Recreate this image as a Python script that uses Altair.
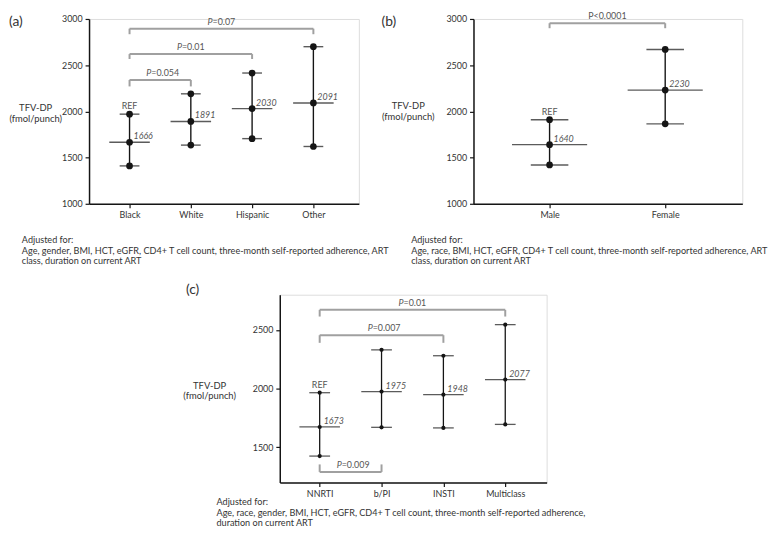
import altair as alt
import pandas as pd

FONT = "Lato"
TXT = "#333333"
VAL = "#555555"
BRK = "#a0a0a0"
INK = "#151515"

# ---------------- data ----------------
a_cats = ["Black", "White", "Hispanic", "Other"]
a_mean = [1666, 1891, 2030, 2091]
a_low = [1410, 1635, 1705, 1620]
a_high = [1970, 2190, 2415, 2700]
a_br_from = [0, 0, 0]
a_br_to = [1, 2, 3]
a_br_level = [2340, 2620, 2895]
a_br_tip = [2270, 2567, 2835]
a_br_p = ["=0.054", "=0.01", "=0.07"]

b_cats = ["Male", "Female"]
b_mean = [1640, 2230]
b_low = [1420, 1865]
b_high = [1910, 2670]
b_br_from = [0]
b_br_to = [1]
b_br_level = [2954]
b_br_tip = [2900]
b_br_label = ["P<0.0001"]

c_cats = ["NNRTI", "b/PI", "INSTI", "Multiclass"]
c_mean = [1673, 1975, 1948, 2077]
c_low = [1425, 1670, 1665, 1695]
c_high = [1965, 2330, 2280, 2545]
c_br_from = [0, 0, 0]
c_br_to = [3, 2, 1]
c_br_level = [2671, 2455, 1290]
c_br_tip = [2614, 2390, 1354]
c_br_p = ["=0.01", "=0.007", "=0.009"]

y_ticks_ab = [1000, 1500, 2000, 2500, 3000]
y_ticks_c = [1500, 2000, 2500]

note_a = ("Adjusted for:\nAge, gender, BMI, HCT, eGFR, CD4+ T cell count, three-month self-reported adherence, ART\n"
          "class, duration on current ART")
note_b = ("Adjusted for:\nAge, race, BMI, HCT, eGFR, CD4+ T cell count, three-month self-reported adherence, ART\n"
          "class, duration on current ART")
note_c = ("Adjusted for:\nAge, race, gender, BMI, HCT, eGFR, CD4+ T cell count, three-month self-reported adherence,\n"
          "duration on current ART")


def panel(cats, lows, means, highs, xdom, ydom, yticks, width, height,
          br_from, br_to, br_level, br_tip, br_p, br_plain, br_dy,
          cap, meanw, dot, sw, letter, letter_xy, title_xy, note, note_xy):
    n = len(cats)
    df = pd.DataFrame({"idx": list(range(n)), "cat": cats, "lo": lows,
                       "mean": means, "hi": highs})
    labexpr = "[" + ",".join("'%s'" % c for c in cats) + "][datum.value]"
    xaxis = alt.Axis(values=list(range(n)), labelExpr=labexpr, title=None, grid=False,
                     domainColor=INK, domainWidth=1.5, tickColor=INK, tickWidth=1.2,
                     tickSize=4, labelPadding=3, labelColor=TXT, labelFontSize=9,
                     labelFont=FONT)
    yaxis = alt.Axis(values=yticks, title=None, grid=False, format="d",
                     domainColor=INK, domainWidth=1.5, tickColor=INK, tickWidth=1.2,
                     tickSize=4, labelPadding=3, labelColor=TXT, labelFontSize=9,
                     labelFont=FONT)
    xs = alt.Scale(domain=xdom, nice=False, zero=False)
    ys = alt.Scale(domain=ydom, nice=False, zero=False)

    def X(f):
        return alt.X(f, type="quantitative", scale=xs, axis=xaxis)

    def Y(f):
        return alt.Y(f, type="quantitative", scale=ys, axis=yaxis)

    base = alt.Chart(df)
    whisk = base.mark_rule(color=INK, strokeWidth=sw).encode(x=X("idx"), y=Y("lo"), y2="hi")
    caps = base.transform_fold(["lo", "hi"], as_=["k", "val"]).mark_tick(
        orient="horizontal", size=cap, thickness=sw, color=INK).encode(x=X("idx"), y=Y("val"))
    mline = base.mark_tick(orient="horizontal", size=meanw, thickness=sw, color=INK).encode(
        x=X("idx"), y=Y("mean"))
    dots = base.transform_fold(["lo", "mean", "hi"], as_=["k", "val"]).mark_circle(
        size=dot, color=INK, opacity=1).encode(x=X("idx"), y=Y("val"))
    vals = base.mark_text(align="left", baseline="middle", dx=4, dy=-6, fontStyle="italic",
                          font=FONT, fontSize=9, color=VAL).encode(
        x=X("idx"), y=Y("mean"), text=alt.Text("mean:Q", format="d"))
    ref = base.transform_filter("datum.idx == 0").mark_text(
        align="center", baseline="middle", dy=-8, font=FONT, fontSize=9, color=VAL).encode(
        x=X("idx"), y=Y("hi"), text=alt.value("REF"))

    bdf = pd.DataFrame({"f": br_from, "t": br_to, "lv": br_level, "tip": br_tip, "p": br_p})
    bb = alt.Chart(bdf).transform_calculate(mid="(datum.f + datum.t) / 2")
    hbar = bb.mark_rule(color=BRK, strokeWidth=2).encode(x=X("f"), x2="t", y=Y("lv"))
    lt = bb.mark_rule(color=BRK, strokeWidth=2).encode(x=X("f"), y=Y("lv"), y2="tip")
    rt = bb.mark_rule(color=BRK, strokeWidth=2).encode(x=X("t"), y=Y("lv"), y2="tip")
    layers = [hbar, lt, rt, whisk, caps, mline, dots, vals, ref]
    if br_plain:
        layers.append(bb.mark_text(align="center", baseline="middle", dy=br_dy, font=FONT,
                                   fontSize=9, color=VAL).encode(
            x=X("mid"), y=Y("lv"), text="p:N"))
    else:
        layers.append(bb.mark_text(align="right", baseline="middle", dx=-9, dy=br_dy, font=FONT,
                                   fontSize=9, fontStyle="italic", color=VAL).encode(
            x=X("mid"), y=Y("lv"), text=alt.value("P")))
        layers.append(bb.mark_text(align="left", baseline="middle", dx=-9, dy=br_dy, font=FONT,
                                   fontSize=9, color=VAL).encode(
            x=X("mid"), y=Y("lv"), text="p:N"))

    one = alt.Chart(pd.DataFrame({"k": [0]}))
    layers.append(one.mark_text(align="left", baseline="top", font=FONT, fontSize=14,
                                color=TXT).encode(
        x=alt.value(letter_xy[0]), y=alt.value(letter_xy[1]), text=alt.value(letter)))
    layers.append(one.mark_text(align="center", baseline="middle", font=FONT, fontSize=9.5,
                                color=TXT, lineBreak="\n", lineHeight=11).encode(
        x=alt.value(title_xy[0]), y=alt.value(title_xy[1]),
        text=alt.value("TFV-DP\n(fmol/punch)")))
    layers.append(one.mark_text(align="left", baseline="top", font=FONT, fontSize=9.2,
                                color=TXT, lineBreak="\n", lineHeight=10.5).encode(
        x=alt.value(note_xy[0]), y=alt.value(note_xy[1]), text=alt.value(note)))
    return alt.layer(*layers).properties(width=width, height=height)


pa = panel(a_cats, a_low, a_mean, a_high, [-0.661, 3.742], [1000, 3000], y_ticks_ab, 273, 187,
           a_br_from, a_br_to, a_br_level, a_br_tip, a_br_p, False, -7,
           20, 41, 46, 1.4, "(a)", (-81, -4), (-54, 90), note_a, (-68, 220))
pb = panel(b_cats, b_low, b_mean, b_high, [-0.658, 1.667], [1000, 3000], y_ticks_ab, 272, 187,
           b_br_from, b_br_to, b_br_level, b_br_tip, b_br_label, True, -7,
           38, 76, 46, 1.4, "(b)", (-93, -4), (-66, 88), note_b, (-63, 220))
pc = panel(c_cats, c_low, c_mean, c_high, [-0.645, 3.669], [1200, 2800], y_ticks_c, 270, 190,
           c_br_from, c_br_to, c_br_level, c_br_tip, c_br_p, False, -7,
           21, 41, 18, 1.3, "(c)", (-95, -12), (-71, 92), note_c, (-64, 206))

spacer = alt.Chart(pd.DataFrame({"v": [0]})).mark_text(text="").encode(
    x=alt.value(10), y=alt.value(10)).properties(
    width=193, height=190, view=alt.ViewBackground(stroke="transparent", strokeWidth=0))

row1 = alt.hconcat(pa, pb, spacing=116, bounds="flush")
row2 = alt.hconcat(spacer, pc, spacing=0, bounds="flush")

chart = alt.vconcat(row1, row2, spacing=15).properties(padding=0).configure_view(
    stroke="transparent", strokeWidth=0).configure(font=FONT, background="white")

chart.save("out.html", embed_options={"renderer": "svg", "actions": False})
